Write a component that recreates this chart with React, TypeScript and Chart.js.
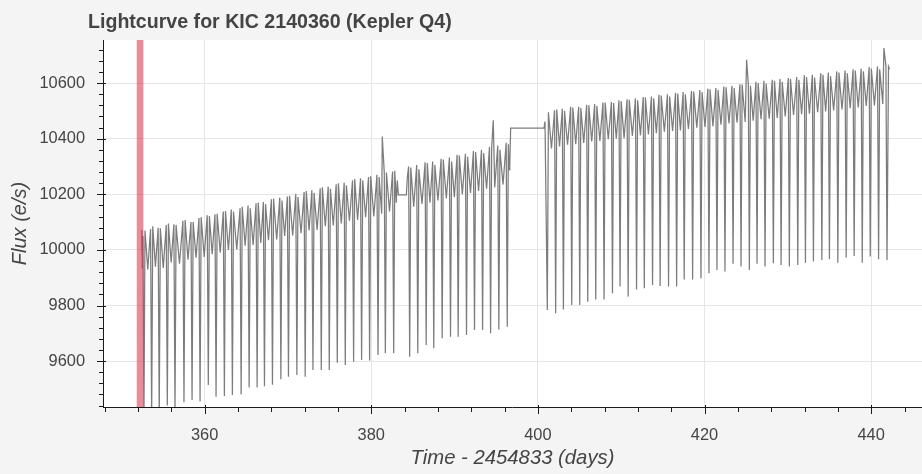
import React, { useEffect, useRef } from 'react';
import { Chart, registerables } from 'chart.js';

Chart.register(...registerables);

const TITLE = 'Lightcurve for KIC 2140360 (Kepler Q4)';
const X_TITLE = 'Time - 2454833 (days)';
const Y_TITLE = 'Flux (e/s)';

const xTicks = [360, 380, 400, 420, 440];
const yTicks = [9600, 9800, 10000, 10200, 10400, 10600];
const xRange = [347.8, 446.1];
const yRange = [9435, 10755];

// highlighted span (red band)
const bandTime = [351.85, 352.65];

// first segment: primary eclipse times and minima
const seg1DipTime = [352.71, 353.64, 354.55, 355.52, 356.44, 357.52, 358.49, 359.45, 360.44, 361.37,
  362.37, 363.33, 364.38, 365.34, 366.30, 367.18, 368.14, 369.15, 370.06, 371.07,
  372.07, 373.00, 374.00, 374.96, 375.92, 376.88, 377.88, 378.84, 379.80, 380.81,
  381.69, 382.69, 384.61, 385.58, 386.59, 387.50, 388.51, 389.51, 390.43, 391.43,
  392.39, 393.36, 394.32, 395.31, 396.32];
const seg1DipFlux = [9380, 9390, 9400, 9440, 9420, 9452, 9460, 9455, 9514, 9472,
  9475, 9478, 9480, 9505, 9505, 9510, 9515, 9535, 9544, 9550,
  9544, 9568, 9568, 9568, 9594, 9586, 9598, 9604, 9602, 9622,
  9628, 9628, 9616, 9628, 9658, 9646, 9682, 9688, 9688, 9694,
  9712, 9712, 9700, 9714, 9724];
const seg1PeakA = [10070, 10085, 10078, 10095, 10090, 10108, 10100, 10118, 10122, 10130,
  10140, 10138, 10155, 10150, 10170, 10165, 10185, 10178, 10195, 10190,
  10212, 10205, 10225, 10220, 10240, 10232, 10255, 10250, 10265, 10262,
  10278, 10285, 10296, 10290, 10312, 10305, 10325, 10318, 10340, 10335,
  10352, 10348, 10368, 10360];
const seg1Trough = [9930, 9940, 9935, 9955, 9950, 9965, 9972, 9975, 9985, 9990,
  10000, 10002, 10015, 10018, 10025, 10035, 10038, 10050, 10052, 10060,
  10070, 10072, 10085, 10088, 10095, 10105, 10108, 10118, 10120, 10130,
  10138, 10145, 10155, 10165, 10170, 10178, 10185, 10190, 10200, 10205,
  10212, 10220, 10225, 10235];
const seg1PeakB = [10075, 10080, 10090, 10092, 10105, 10100, 10115, 10125, 10128, 10138,
  10145, 10150, 10160, 10168, 10172, 10182, 10188, 10192, 10202, 10208,
  10215, 10222, 10228, 10236, 10242, 10250, 10258, 10262, 10270, 10278,
  10282, 10300, 10305, 10315, 10318, 10328, 10332, 10342, 10346, 10356,
  10360, 10370, 10375, 10385];

// second segment
const seg2DipTime = [401.13, 402.13, 403.06, 404.06, 405.02, 405.98, 406.94, 407.94, 408.95, 409.86,
  410.83, 411.84, 412.77, 413.76, 414.67, 415.68, 416.65, 417.56, 418.57, 419.57,
  420.53, 421.49, 422.45, 423.42, 424.38, 425.38, 426.30, 427.26, 428.26, 429.19,
  430.18, 431.19, 432.11, 433.07, 434.08, 434.99, 436.00, 437.00, 437.96, 438.93,
  439.89, 440.89, 441.90];
const seg2DipFlux = [9784, 9772, 9786, 9802, 9802, 9814, 9822, 9822, 9844, 9868,
  9832, 9858, 9862, 9874, 9870, 9868, 9868, 9894, 9894, 9898,
  9916, 9928, 9922, 9950, 9940, 9928, 9950, 9940, 9952, 9946,
  9940, 9946, 9954, 9958, 9964, 9966, 9954, 9972, 9978, 9954,
  9976, 9966, 9964];
const seg2PeakA = [10495, 10505, 10500, 10512, 10510, 10520, 10518, 10530, 10528, 10535,
  10540, 10538, 10548, 10545, 10555, 10552, 10562, 10560, 10570, 10568,
  10578, 10575, 10585, 10582, 10595, 10590, 10600, 10598, 10608, 10605,
  10615, 10612, 10622, 10620, 10630, 10625, 10638, 10635, 10645, 10642,
  10652, 10650];
const seg2Trough = [10365, 10372, 10378, 10380, 10385, 10390, 10392, 10398, 10400, 10402,
  10410, 10412, 10415, 10420, 10425, 10428, 10430, 10435, 10440, 10442,
  10445, 10450, 10455, 10458, 10460, 10465, 10470, 10472, 10475, 10480,
  10485, 10488, 10490, 10495, 10498, 10502, 10505, 10510, 10512, 10518,
  10520, 10525];
const seg2PeakB = [10502, 10508, 10515, 10515, 10522, 10525, 10530, 10532, 10538, 10542,
  10545, 10550, 10552, 10558, 10560, 10565, 10568, 10572, 10575, 10580,
  10582, 10588, 10590, 10596, 10598, 10605, 10608, 10612, 10615, 10618,
  10622, 10628, 10630, 10635, 10638, 10642, 10645, 10650, 10652, 10658,
  10660, 10662];

// isolated samples: start, outliers, gap edges, segment ends
const extraTime = [352.40, 352.46, 352.52, 352.60, 381.32, 383.00, 383.12, 383.25, 384.21, 384.33,
  394.64, 396.45, 396.55, 396.62, 396.73, 400.73, 400.85, 425.05, 441.53, 442.08, 442.21];
const extraFlux = [10000, 10072, 9935, 10050, 10408, 10170, 10250, 10198, 10198, 10262,
  10466, 10380, 10288, 10300, 10438, 10438, 10462, 10684, 10726, 10660, 10650];

const EDGE = 0.13;

function buildPoints() {
  const pts: { x: number; y: number }[] = [];
  const addSeg = (dT: number[], dF: number[], pA: number[], tr: number[], pB: number[]) => {
    for (let i = 0; i < dT.length; i++) {
      pts.push({ x: dT[i], y: dF[i] });
      if (i < dT.length - 1) {
        const t0 = dT[i];
        const t1 = dT[i + 1];
        pts.push({ x: t0 + EDGE, y: pA[i] });
        if (t1 - t0 < 1.5) pts.push({ x: (t0 + t1) / 2, y: tr[i] });
        pts.push({ x: t1 - EDGE, y: pB[i] });
      }
    }
  };
  addSeg(seg1DipTime, seg1DipFlux, seg1PeakA, seg1Trough, seg1PeakB);
  addSeg(seg2DipTime, seg2DipFlux, seg2PeakA, seg2Trough, seg2PeakB);
  extraTime.forEach((t, i) => pts.push({ x: t, y: extraFlux[i] }));
  pts.sort((a, b) => a.x - b.x);
  return pts;
}

const FONT = '"Liberation Sans", Arial, Helvetica, sans-serif';

const decor = {
  id: 'decor',
  beforeDraw(chart: any) {
    const { ctx, width, height, chartArea: a } = chart;
    ctx.save();
    ctx.fillStyle = '#f4f4f4';
    ctx.fillRect(0, 0, width, height);
    ctx.fillStyle = '#ffffff';
    ctx.fillRect(a.left, a.top, a.right - a.left, a.bottom - a.top);
    ctx.fillStyle = '#444444';
    ctx.font = `bold 19.6px ${FONT}`;
    ctx.textBaseline = 'alphabetic';
    ctx.textAlign = 'left';
    ctx.fillText(TITLE, 88, 27.5);
    ctx.restore();
  },
  afterDatasetsDraw(chart: any) {
    const { ctx, chartArea: a, scales } = chart;
    const x0 = scales.x.getPixelForValue(bandTime[0]);
    const x1 = scales.x.getPixelForValue(bandTime[1]);
    ctx.save();
    ctx.beginPath();
    ctx.rect(a.left, a.top, a.right - a.left, a.bottom - a.top);
    ctx.clip();
    ctx.fillStyle = 'rgba(215, 45, 70, 0.55)';
    ctx.fillRect(x0, a.top, x1 - x0, a.bottom - a.top);
    ctx.restore();
  },
  afterDraw(chart: any) {
    const { ctx, chartArea: a, scales } = chart;
    const xs = scales.x;
    const ys = scales.y;
    ctx.save();
    ctx.strokeStyle = '#1a1a1a';
    ctx.lineWidth = 1;
    ctx.beginPath();
    ctx.moveTo(a.left + 0.5, a.top);
    ctx.lineTo(a.left + 0.5, a.bottom + 0.5);
    ctx.moveTo(a.left, a.bottom + 0.5);
    ctx.lineTo(a.right, a.bottom + 0.5);
    for (let v = Math.ceil(ys.min / 40) * 40; v <= ys.max; v += 40) {
      const y = Math.round(ys.getPixelForValue(v)) + 0.5;
      const major = v % 200 === 0;
      ctx.moveTo(a.left + (major ? 3 : 0.5), y);
      ctx.lineTo(a.left - (major ? 6 : 4), y);
    }
    for (let v = Math.ceil(xs.min / 4) * 4; v <= xs.max; v += 4) {
      const x = Math.round(xs.getPixelForValue(v)) + 0.5;
      const major = v % 20 === 0;
      ctx.moveTo(x, a.bottom - (major ? 2 : 0));
      ctx.lineTo(x, a.bottom + (major ? 7 : 5));
    }
    ctx.stroke();
    ctx.restore();
  },
};

export default function App() {
  const ref = useRef<HTMLCanvasElement>(null);
  useEffect(() => {
    document.body.style.margin = '0';
    document.body.style.overflow = 'hidden';
    const canvas = ref.current!;
    const chart = new Chart(canvas, {
      type: 'scatter',
      data: {
        datasets: [
          {
            data: buildPoints(),
            showLine: true,
            borderColor: '#7c7c7c',
            borderWidth: 1.25,
            pointRadius: 0,
            pointHoverRadius: 0,
            fill: false,
            tension: 0,
          },
        ],
      },
      options: {
        animation: false,
        responsive: false,
        devicePixelRatio: 1,
        layout: { padding: { top: 40, left: 0, right: 0, bottom: 0 } },
        plugins: { legend: { display: false }, tooltip: { enabled: false }, title: { display: false } },
        scales: {
          x: {
            type: 'linear',
            min: xRange[0],
            max: xRange[1],
            afterBuildTicks: (s: any) => { s.ticks = xTicks.map((v) => ({ value: v })); },
            afterFit: (s: any) => { s.height = 67; },
            grid: { color: '#e6e6e6', lineWidth: 1, drawTicks: false },
            border: { display: false },
            ticks: { padding: 19, color: '#444444', font: { family: FONT, size: 16.4 }, maxRotation: 0, autoSkip: false, callback: (v: any) => String(v) },
            title: { display: true, text: X_TITLE, color: '#444444', font: { family: FONT, size: 20.3, style: 'italic' }, padding: { top: 0, bottom: 3 } },
          },
          y: {
            type: 'linear',
            min: yRange[0],
            max: yRange[1],
            afterBuildTicks: (s: any) => { s.ticks = yTicks.map((v) => ({ value: v })); },
            afterFit: (s: any) => { s.width = 103; },
            grid: { color: '#e6e6e6', lineWidth: 1, drawTicks: false },
            border: { display: false },
            ticks: { padding: 18, color: '#444444', font: { family: FONT, size: 16.4 }, autoSkip: false, callback: (v: any) => String(v) },
            title: { display: true, text: Y_TITLE, color: '#444444', font: { family: FONT, size: 20, style: 'italic' }, padding: { top: 8, bottom: 0 } },
          },
        },
      },
      plugins: [decor],
    });
    return () => chart.destroy();
  }, []);
  return <canvas ref={ref} width={922} height={474} style={{ display: 'block', width: 922, height: 474 }} />;
}
